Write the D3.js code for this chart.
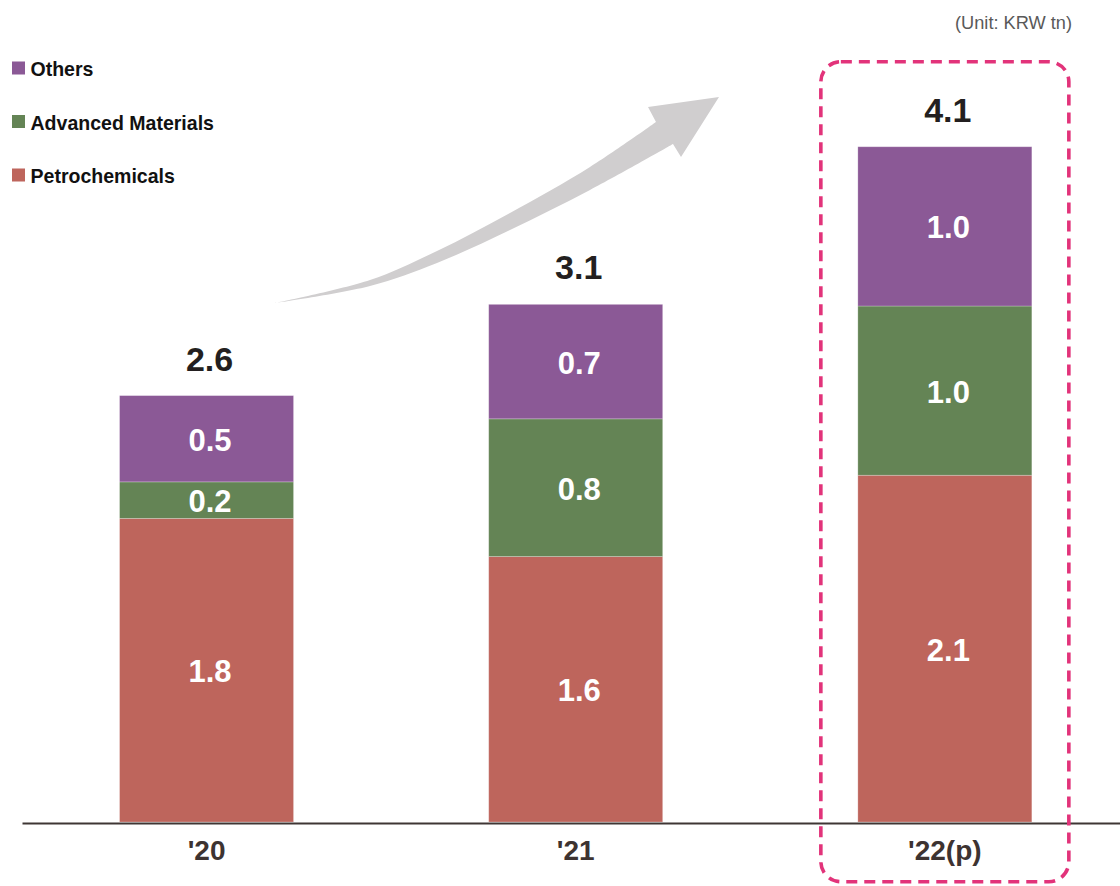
<!DOCTYPE html>
<html>
<head>
<meta charset="utf-8">
<script src="https://cdn.jsdelivr.net/npm/d3@7"></script>
<style>
  html, body { margin: 0; padding: 0; background: #ffffff; }
  svg { display: block; font-family: "Liberation Sans", Arial, sans-serif; }
</style>
</head>
<body>
<svg id="chart" width="1120" height="886"></svg>
<script>
// Operating profit by business segment (KRW tn)
const years = ["'20", "'21", "'22(p)"];
const petrochemicals = [1.83, 1.60, 2.09];
const advancedMaterials = [0.22, 0.83, 1.02];
const others = [0.52, 0.69, 0.96];

const seriesKeys = ["petrochemicals", "advancedMaterials", "others"];
const seriesNames = ["Petrochemicals", "Advanced Materials", "Others"];
const seriesColors = ["#BE655C", "#648455", "#8B5996"];
const legendOrder = ["others", "advancedMaterials", "petrochemicals"];
const unitLabel = "(Unit: KRW tn)";

const rows = years.map((year, i) => ({
  year,
  petrochemicals: petrochemicals[i],
  advancedMaterials: advancedMaterials[i],
  others: others[i]
}));

const svg = d3.select("#chart");
const fmt = d3.format(".1f");

const x = d3.scaleBand()
  .domain(years)
  .range([22, 1129.4])
  .paddingInner(0.5287)
  .paddingOuter(0.2643);

const y = d3.scaleLinear()
  .domain([0, 4.5])
  .range([822, 75.4]);

const color = d3.scaleOrdinal().domain(seriesKeys).range(seriesColors);
const nameOf = d3.scaleOrdinal().domain(seriesKeys).range(seriesNames);

const stacked = d3.stack().keys(seriesKeys)(rows);

// growth arrow behind the bars
const upperEdge = [[275, 303], [370, 280], [437, 251], [510, 213], [590, 167], [656, 122]];
const lowerEdge = [[673, 144], [590, 190], [510, 230], [437, 263], [370, 286], [275, 303]];
const edge = d3.line().curve(d3.curveCatmullRom.alpha(0.5));
const arrowPath = edge(upperEdge) +
  "L648,107L719,97L681,157L673,144" +
  edge(lowerEdge).replace(/^M/, "L") + "Z";
svg.append("path")
  .attr("d", arrowPath)
  .attr("fill", "#D0CECF");

// stacked bars
const layers = svg.append("g").selectAll("g")
  .data(stacked)
  .join("g")
  .attr("fill", d => color(d.key));

layers.selectAll("rect")
  .data(d => d.map(s => Object.assign(s, { key: d.key })))
  .join("rect")
  .attr("x", d => x(d.data.year))
  .attr("width", x.bandwidth())
  .attr("y", d => y(d[1]))
  .attr("height", d => y(d[0]) - y(d[1]))
  .attr("stroke", "#ffffff")
  .attr("stroke-opacity", 0.3)
  .attr("stroke-width", 0.8);

// segment value labels
layers.selectAll("text")
  .data(d => d)
  .join("text")
  .attr("x", d => x(d.data.year) + x.bandwidth() / 2 + 3.5)
  .attr("y", d => (y(d[0]) + y(d[1])) / 2 + 12)
  .attr("text-anchor", "middle")
  .attr("fill", "#ffffff")
  .attr("font-size", 31)
  .attr("font-weight", "bold")
  .text(d => fmt(d.data[d.key]));

// totals above bars
svg.append("g").selectAll("text")
  .data(rows)
  .join("text")
  .attr("x", d => x(d.year) + x.bandwidth() / 2 + 3)
  .attr("y", d => y(d3.sum(seriesKeys, k => d[k])) - 25)
  .attr("text-anchor", "middle")
  .attr("fill", "#231F20")
  .attr("font-size", 34)
  .attr("font-weight", "bold")
  .text(d => fmt(d3.sum(seriesKeys, k => d[k])));

// category axis
const xAxis = svg.append("g")
  .attr("transform", "translate(0,823)")
  .call(d3.axisBottom(x).tickSize(0).tickPadding(0).tickSizeOuter(0));
xAxis.select(".domain")
  .attr("stroke", "#3F3634")
  .attr("stroke-width", 2);
xAxis.selectAll(".tick text")
  .attr("dy", null)
  .attr("y", 37)
  .attr("fill", "#3D3331")
  .attr("font-size", 28)
  .attr("font-weight", "bold")
  .attr("font-family", "\"Liberation Sans\", Arial, sans-serif");

// highlight frame around the projected year
const hx = x(years[2]) + x.bandwidth() / 2;
svg.append("rect")
  .attr("x", hx - 124)
  .attr("y", 61.7)
  .attr("width", 248)
  .attr("height", 820)
  .attr("rx", 20)
  .attr("ry", 20)
  .attr("fill", "none")
  .attr("stroke", "#E2337A")
  .attr("stroke-width", 3.6)
  .attr("stroke-dasharray", "11 7");

// legend
const legend = svg.append("g").selectAll("g")
  .data(legendOrder)
  .join("g")
  .attr("transform", (d, i) => `translate(12,${76 + i * 53.5})`);
legend.append("rect")
  .attr("x", 0)
  .attr("y", -14.5)
  .attr("width", 13)
  .attr("height", 13)
  .attr("fill", d => color(d));
legend.append("text")
  .attr("x", 18.5)
  .attr("y", 0)
  .attr("fill", "#111111")
  .attr("font-size", 21)
  .attr("font-weight", "bold")
  .text(d => nameOf(d))
  .each(function () {
    const w = this.getComputedTextLength();
    d3.select(this).attr("textLength", w * 0.93).attr("lengthAdjust", "spacingAndGlyphs");
  });

// unit note
svg.append("text")
  .attr("x", 1072)
  .attr("y", 29)
  .attr("text-anchor", "end")
  .attr("fill", "#595959")
  .attr("font-size", 19)
  .text(unitLabel)
  .attr("textLength", 117)
  .attr("lengthAdjust", "spacingAndGlyphs");
</script>
</body>
</html>
